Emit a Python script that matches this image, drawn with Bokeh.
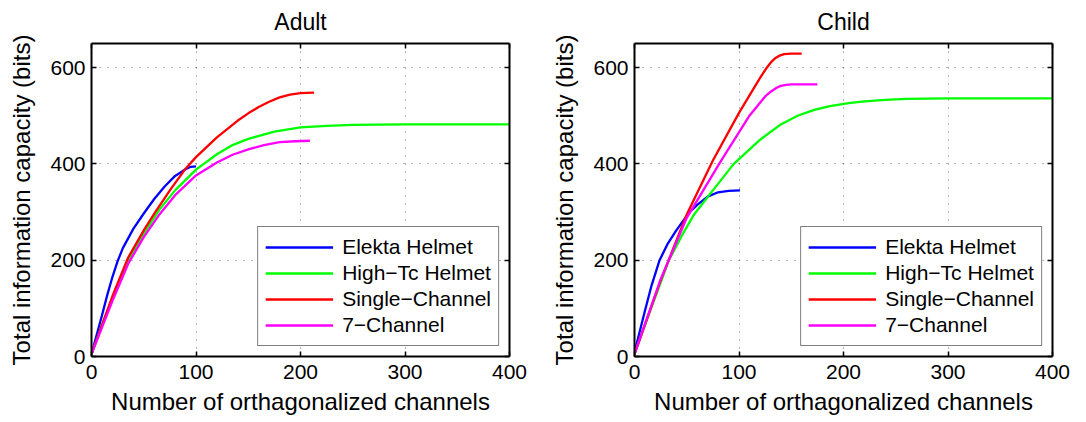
from bokeh.plotting import figure
from bokeh.layouts import row
from bokeh.models import LinearAxis, FixedTicker, CustomJSTickFormatter, Range1d, Legend, LegendItem
from bokeh.embed import file_html
from bokeh.resources import INLINE

# ---------------- data ----------------
x_ticks = [0, 100, 200, 300, 400]
y_ticks = [0, 200, 400, 600]
series_names = ["Elekta Helmet", "High\u2212Tc Helmet", "Single\u2212Channel", "7\u2212Channel"]
series_colors = ["#0000ff", "#00ff00", "#ff0000", "#ff00ff"]

# Adult
adult_elekta_x = [0, 5, 10, 15, 20, 25, 30, 40, 50, 60, 70, 80, 90, 95, 100]
adult_elekta_y = [5, 45, 85, 127, 165, 198, 225, 265, 297, 327, 353, 375, 389, 394, 395]
adult_hightc_x = [0, 10, 20, 35, 50, 65, 80, 100, 120, 135, 150, 175, 200, 225, 250, 300, 400]
adult_hightc_y = [5, 65, 122, 200, 255, 305, 345, 388, 420, 439, 452, 467, 476, 479, 481, 482, 482]
adult_single_x = [0, 10, 20, 35, 50, 61, 75, 90, 100, 120, 140, 150, 160, 170, 180, 190, 200, 213]
adult_single_y = [5, 65, 125, 205, 262, 300, 345, 390, 414, 455, 490, 505, 518, 529, 538, 544, 547, 548]
adult_seven_x = [0, 10, 20, 35, 50, 65, 80, 100, 120, 135, 150, 165, 180, 195, 209]
adult_seven_y = [5, 60, 115, 192, 248, 295, 335, 376, 403, 419, 430, 439, 445, 447, 448]

# Child
child_elekta_x = [0, 5, 10, 16, 24, 32, 40, 47, 53, 60, 70, 80, 90, 101]
child_elekta_y = [8, 52, 95, 145, 200, 235, 262, 283, 300, 315, 332, 341, 344, 345]
child_hightc_x = [0, 15, 33, 45, 57, 75, 95, 120, 140, 156, 172, 187, 205, 220, 240, 260, 300, 400]
child_hightc_y = [5, 95, 200, 250, 295, 345, 400, 450, 482, 500, 512, 520, 526, 530, 533, 535, 536, 536]
child_single_x = [0, 25, 50, 75, 100, 120, 126, 131, 135, 139, 143, 150, 160]
child_single_y = [5, 158, 295, 407, 506, 578, 598, 612, 620, 625, 628, 629, 629]
child_seven_x = [0, 25, 50, 81, 110, 125, 131, 136, 140, 145, 150, 175]
child_seven_y = [5, 160, 288, 400, 500, 540, 551, 558, 562, 564, 565, 565]

FONT = "Liberation Sans"


def make_panel(title, series, left_border, right_border):
    p = figure(frame_width=418, frame_height=313, output_backend="svg", toolbar_location=None,
               x_range=Range1d(0, 400), y_range=Range1d(0, 650),
               min_border_left=left_border, min_border_right=right_border,
               min_border_top=43, min_border_bottom=60)
    p.background_fill_color = "white"
    p.border_fill_color = "white"
    p.outline_line_color = None

    p.title.text = title
    p.title.align = "center"
    p.title.vertical_align = "top"
    p.title.text_font = FONT
    p.title.text_font_size = "23px"
    p.title.text_font_style = "normal"
    p.title.text_color = "black"
    p.title.standoff = 14
    p.title.text_line_height = 0.6

    for ax in (p.xaxis[0], p.yaxis[0]):
        ax.major_tick_in = 5
        ax.major_tick_out = 0
        ax.minor_tick_line_color = None
        ax.axis_line_color = "black"
        ax.major_tick_line_color = "black"
        ax.axis_line_width = 2
        ax.major_tick_line_width = 1.5
        ax.major_label_text_font = FONT
        ax.major_label_text_font_size = "21px"
        ax.major_label_text_color = "black"
        ax.axis_label_text_font = FONT
        ax.axis_label_text_font_size = "24px"
        ax.axis_label_text_font_style = "normal"
        ax.axis_label_text_color = "black"
    p.xaxis[0].ticker = FixedTicker(ticks=x_ticks)
    p.yaxis[0].ticker = FixedTicker(ticks=y_ticks)
    p.xaxis[0].axis_label = "Number of orthagonalized channels"
    p.yaxis[0].axis_label = "Total information capacity (bits)"
    p.xaxis[0].major_label_standoff = 8
    p.yaxis[0].major_label_standoff = 6
    p.xaxis[0].axis_label_standoff = 6
    p.yaxis[0].axis_label_standoff = 12

    for loc, ticks in (("above", x_ticks), ("right", y_ticks)):
        ax = LinearAxis(ticker=FixedTicker(ticks=ticks),
                        formatter=CustomJSTickFormatter(code="return ''"),
                        major_tick_in=5, major_tick_out=0, minor_tick_line_color=None,
                        axis_line_color="black", major_tick_line_color="black",
                        axis_line_width=2, major_tick_line_width=1.5,
                        major_label_standoff=0, major_label_text_font_size="1px")
        p.add_layout(ax, loc)

    p.xgrid.ticker = FixedTicker(ticks=x_ticks)
    p.ygrid.ticker = FixedTicker(ticks=y_ticks)
    for g in (p.xgrid[0], p.ygrid[0]):
        g.grid_line_color = "black"
        g.grid_line_alpha = 0.6
        g.grid_line_dash = "1 7"
        g.grid_line_width = 1

    items = []
    for (xs, ys), name, color in zip(series, series_names, series_colors):
        r = p.line(xs, ys, line_color=color, line_width=2.3)
        items.append(LegendItem(label=name, renderers=[r]))

    leg = Legend(items=items, location="bottom_right")
    leg.margin = 10
    leg.padding = 7
    leg.spacing = 0
    leg.label_height = 26
    leg.glyph_height = 26
    leg.glyph_width = 68
    leg.label_standoff = 9
    leg.label_text_font = FONT
    leg.label_text_font_size = "21px"
    leg.label_text_color = "black"
    leg.border_line_color = "black"
    leg.border_line_width = 1.5
    leg.background_fill_color = "white"
    leg.background_fill_alpha = 1.0
    p.add_layout(leg, "center")
    return p


p1 = make_panel("Adult", [(adult_elekta_x, adult_elekta_y), (adult_hightc_x, adult_hightc_y),
                          (adult_single_x, adult_single_y), (adult_seven_x, adult_seven_y)], 91, 39)
p2 = make_panel("Child", [(child_elekta_x, child_elekta_y), (child_hightc_x, child_hightc_y),
                          (child_single_x, child_single_y), (child_seven_x, child_seven_y)], 86, 20)

layout = row(p1, p2)
open("out.html", "w").write(file_html(layout, INLINE))
